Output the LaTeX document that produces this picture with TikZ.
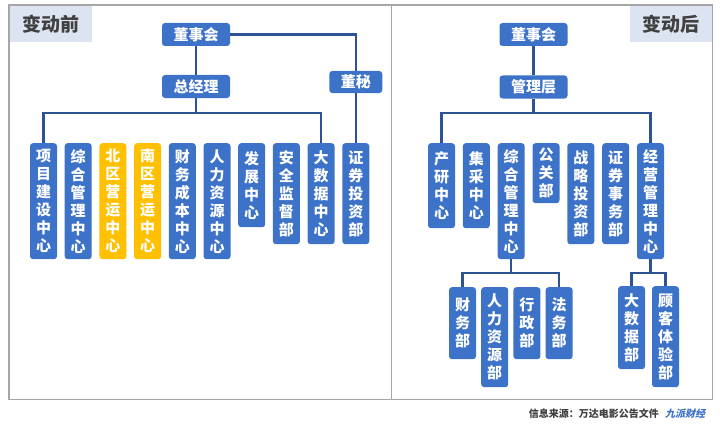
\documentclass[tikz,border=0pt]{standalone}
\usepackage{fontspec}
\setmainfont{Noto Sans CJK SC}
\newfontfamily\logofont[FakeSlant=0.25]{Noto Sans CJK SC}
\definecolor{boxblue}{HTML}{3C72C8}
\definecolor{boxgold}{HTML}{FFC000}
\definecolor{linkblue}{HTML}{2E5395}
\definecolor{tagfill}{HTML}{DCE3F1}
\definecolor{tagtext}{HTML}{404040}
\definecolor{framegray}{HTML}{A6A6A6}
\begin{document}
\begin{tikzpicture}[x=1pt,y=1pt,
  hbox/.style={fill=boxblue,rounded corners=3pt,text=white,font=\bfseries\fontsize{15}{18}\selectfont,inner sep=0pt,minimum width=68pt,minimum height=23pt},
  vbox/.style={fill=boxblue,rounded corners=3pt,text=white,font=\bfseries\fontsize{15}{18}\selectfont,align=center,inner sep=0pt,minimum width=27pt,anchor=north,minimum height=#1},
  gbox/.style={vbox=#1,fill=boxgold},
  link/.style={draw=linkblue,line width=2.2pt},
  frame/.style={draw=framegray,line width=1.2pt},
  tag/.style={fill=tagfill,text=tagtext,font=\bfseries\fontsize{19}{20}\selectfont,inner sep=0pt,minimum width=83pt,minimum height=37pt}]
\useasboundingbox (0,0) rectangle (720,-428);
\fill [white] (0,0) rectangle (720,-428);
\node [tag,anchor=north west] (tagl) at (9,-5) {变动前};
\node [tag,anchor=north east] (tagr) at (712.7,-5) {变动后};
\draw [frame] (9,-5) rectangle (391.5,-399.5);
\draw [frame] (391.5,-5) rectangle (712.7,-399.5);
\coordinate (lbus) at (0,-113);
\coordinate (rbus) at (0,-113);
\coordinate (sbus) at (0,-273);
\node [hbox] (bd1) at (196,-34.5) {董事会};
\node [hbox] (gm1) at (196,-86.5) {总经理};
\node [hbox,minimum width=53pt,minimum height=22pt] (sec) at (355.8,-82) {董秘};
\node [vbox=116pt] (l1) at (43.5,-143) {项\\目\\建\\设\\中\\心};
\node [vbox=116pt] (l2) at (78.2,-143) {综\\合\\管\\理\\中\\心};
\node [gbox=116pt] (l3) at (112.9,-143) {北\\区\\营\\运\\中\\心};
\node [gbox=116pt] (l4) at (147.6,-143) {南\\区\\营\\运\\中\\心};
\node [vbox=116pt] (l5) at (182.3,-143) {财\\务\\成\\本\\中\\心};
\node [vbox=116pt] (l6) at (217,-143) {人\\力\\资\\源\\中\\心};
\node [vbox=84pt] (l7) at (251.7,-143) {发\\展\\中\\心};
\node [vbox=101pt] (l8) at (286.4,-143) {安\\全\\监\\督\\部};
\node [vbox=101pt] (l9) at (321.1,-143) {大\\数\\据\\中\\心};
\node [vbox=101pt] (l10) at (355.8,-143) {证\\券\\投\\资\\部};
\draw [link] (bd1) -- (gm1);
\draw [link] (bd1.east) -| (sec.north);
\draw [link] (sec) -- (l10);
\draw [link] (l1.north) |- (lbus -| gm1.south) -- (gm1.south);
\draw [link] (l9.north) |- (lbus -| gm1.south);
\node [hbox] (bd2) at (533.5,-34.5) {董事会};
\node [hbox] (mg2) at (533.5,-87) {管理层};
\node [vbox=85pt] (r1) at (441.5,-143) {产\\研\\中\\心};
\node [vbox=85pt] (r2) at (476.3,-143) {集\\采\\中\\心};
\node [vbox=116pt] (r3) at (511.2,-143) {综\\合\\管\\理\\中\\心};
\node [vbox=60pt] (r4) at (546,-143) {公\\关\\部};
\node [vbox=101pt] (r5) at (580.8,-143) {战\\略\\投\\资\\部};
\node [vbox=101pt] (r6) at (615.7,-143) {证\\券\\事\\务\\部};
\node [vbox=116pt] (r7) at (650.5,-143) {经\\营\\管\\理\\中\\心};
\node [vbox=72pt] (s1) at (462.5,-287) {财\\务\\部};
\node [vbox=100pt] (s2) at (494.7,-287) {人\\力\\资\\源\\部};
\node [vbox=72pt] (s3) at (526.9,-287) {行\\政\\部};
\node [vbox=72pt] (s4) at (559.1,-287) {法\\务\\部};
\node [vbox=83pt] (t1) at (631.5,-286) {大\\数\\据\\部};
\node [vbox=101pt] (t2) at (665.5,-286) {顾\\客\\体\\验\\部};
\draw [link] (bd2) -- (mg2);
\draw [link] (r1.north) |- (rbus -| mg2.south) -- (mg2.south);
\draw [link] (r7.north) |- (rbus -| mg2.south);
\draw [link] (s1.north) |- (sbus -| r3.south) -- (r3.south);
\draw [link] (s4.north) |- (sbus -| r3.south);
\draw [link] (t1.north) |- (sbus -| r7.south) -- (r7.south);
\draw [link] (t2.north) |- (sbus -| r7.south);
\node [text=tagtext,font=\bfseries\fontsize{10}{12}\selectfont,anchor=east,inner sep=0pt] (src) at (659,-413.3) {信息来源：万达电影公告文件};
\node [text=boxblue,font=\logofont\bfseries\fontsize{10}{12}\selectfont,anchor=west,inner sep=0pt] (logo) at (665,-413.3) {九派财经};
\end{tikzpicture}
\end{document}
